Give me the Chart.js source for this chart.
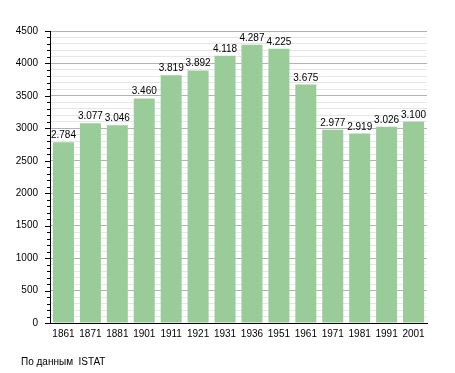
<!DOCTYPE html>
<html>
<head>
<meta charset="utf-8">
<script src="https://cdn.jsdelivr.net/npm/chart.js@4"></script>
<style>
html,body{margin:0;padding:0;background:#fff;}
#wrap{width:455px;height:373px;position:relative;}
</style>
</head>
<body>
<div id="wrap"><canvas id="c" width="455" height="373"></canvas></div>
<script>
const categories = ['1861','1871','1881','1901','1911','1921','1931','1936','1951','1961','1971','1981','1991','2001'];
const population = [2784, 3077, 3046, 3460, 3819, 3892, 4118, 4287, 4225, 3675, 2977, 2919, 3026, 3100];
const yMax = 4500;
const yMajorStep = 500;
const yMinorStep = 100;
const footerText = 'По данным  ISTAT';

const FONT = '"Liberation Sans", Arial, sans-serif';

function fmt(v){ return String(v).replace(/\B(?=(\d{3})+(?!\d))/g, '.'); }

const labelPlugin = {
  id: 'extras',
  afterDatasetsDraw(chart){
    const ctx = chart.ctx;
    const meta = chart.getDatasetMeta(0);
    ctx.save();
    ctx.font = '10px ' + FONT;
    ctx.fillStyle = '#000';
    ctx.textAlign = 'center';
    ctx.textBaseline = 'alphabetic';
    meta.data.forEach((bar, i) => {
      ctx.fillText(fmt(population[i]), bar.x, bar.y - 4);
    });
    // y ticks (major and minor)
    const ys = chart.scales.y;
    const left = chart.chartArea.left;
    ctx.strokeStyle = '#000';
    ctx.lineWidth = 1;
    for (let v = 0; v <= yMax; v += yMinorStep) {
      const y = Math.round(ys.getPixelForValue(v)) + 0.5;
      const len = (v % yMajorStep === 0) ? 5 : 3;
      ctx.beginPath();
      ctx.moveTo(left - len, y);
      ctx.lineTo(left, y);
      ctx.stroke();
    }
    // footer
    ctx.textAlign = 'left';
    ctx.font = '10px ' + FONT;
    ctx.fillText(footerText, 21, 365);
    ctx.restore();
  }
};

new Chart(document.getElementById('c'), {
  type: 'bar',
  data: {
    labels: categories,
    datasets: [{
      data: population,
      backgroundColor: '#99cc99',
      borderWidth: 0,
      barPercentage: 1.0,
      categoryPercentage: 0.78
    }]
  },
  options: {
    responsive: false,
    animation: false,
    layout: { padding: { left: 0, right: 28, top: 31, bottom: 0 } },
    plugins: { legend: { display: false }, tooltip: { enabled: false } },
    scales: {
      x: {
        grid: { display: false, drawTicks: false },
        border: { display: true, color: '#000', width: 1 },
        ticks: { color: '#000', font: { size: 10, family: FONT }, padding: 5, maxRotation: 0, autoSkip: false },
        afterFit(s){ s.height = 50; }
      },
      y: {
        min: 0,
        max: yMax,
        grid: {
          drawTicks: false,
          color: (c) => (c.tick && c.tick.value % yMajorStep === 0) ? '#b3b3b3' : '#e6e6e6',
          lineWidth: 1
        },
        border: { display: true, color: '#000', width: 1 },
        ticks: {
          stepSize: yMinorStep,
          autoSkip: false,
          color: '#000',
          font: { size: 10, family: FONT },
          padding: 12,
          callback: (v) => (v % yMajorStep === 0) ? String(v) : ''
        },
        afterFit(s){ s.width = 50; }
      }
    }
  },
  plugins: [labelPlugin]
});
</script>
</body>
</html>
